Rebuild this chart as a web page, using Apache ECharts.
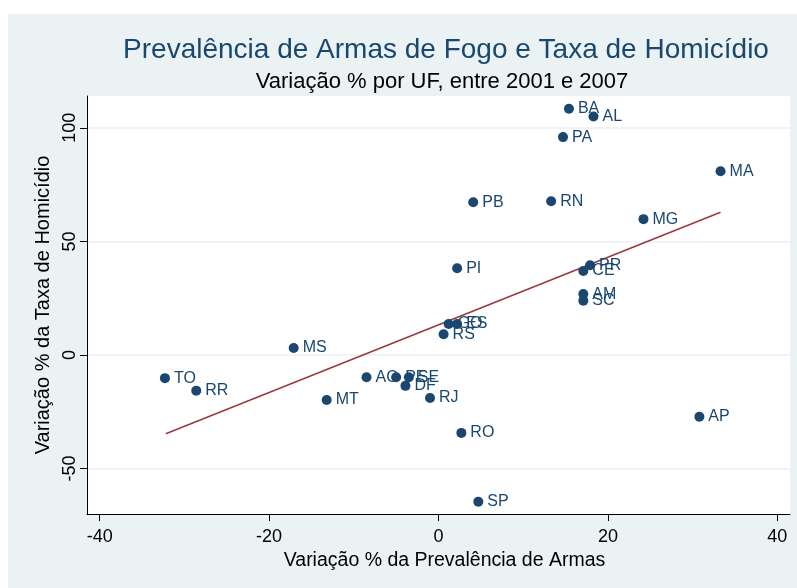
<!DOCTYPE html>
<html>
<head>
<meta charset="utf-8">
<script src="https://cdn.jsdelivr.net/npm/echarts@6/dist/echarts.min.js"></script>
<style>
  html, body { margin: 0; padding: 0; background: #ffffff; }
  #chart { width: 797px; height: 588px; }
</style>
</head>
<body>
<div id="chart"></div>
<script>
// UF codes and their % changes (2001-2007)
const ufs = ["TO", "RR", "MS", "MT", "AC", "PE", "SE", "DF", "RJ", "RO", "SP", "RS", "GO", "ES",
  "PI", "PB", "RN", "PA", "BA", "AL", "MA", "MG", "PR", "CE", "AM", "SC", "AP"];
const armas = [-32.3, -28.6, -17.1, -13.2, -8.5, -5.0, -3.5, -3.9, -1.0, 2.7, 4.7, 0.6, 1.2, 2.2,
  2.2, 4.1, 13.3, 14.7, 15.4, 18.3, 33.3, 24.2, 17.9, 17.1, 17.1, 17.1, 30.8];
const homicidio = [-10.2, -15.7, 3.1, -19.8, -9.8, -9.8, -9.8, -13.6, -18.9, -34.3, -64.6, 9.1, 13.6, 13.6,
  38.2, 67.2, 67.7, 95.9, 108.4, 105.0, 80.9, 59.8, 39.5, 37.0, 26.8, 23.9, -27.2];

// fitted line endpoints
const fitX = [-32.2, 33.3];
const fitY = [-34.7, 62.8];

const xTicks = [-40, -20, 0, 20, 40];
const yTicks = [-50, 0, 50, 100];

const navy = "#1a476f";
const font = "Liberation Sans, Arial, sans-serif";

const chart = echarts.init(document.getElementById("chart"));

chart.setOption({
  animation: false,
  backgroundColor: "#ffffff",
  graphic: [
    {
      type: "rect",
      z: -10,
      shape: { x: 8, y: 14, width: 789, height: 574 },
      style: { fill: "#eaf2f3" },
    },
  ],
  title: [
    {
      text: "Prevalência de Armas de Fogo e Taxa de Homicídio",
      left: 441,
      top: 31,
      textAlign: "center",
      textStyle: { fontSize: 28, fontWeight: "normal", color: navy, fontFamily: font },
    },
    {
      text: "Variação % por UF, entre 2001 e 2007",
      left: 437,
      top: 66,
      textAlign: "center",
      textStyle: { fontSize: 22, fontWeight: "normal", color: "#000000", fontFamily: font },
    },
  ],
  grid: {
    left: 87,
    top: 96,
    right: 7,
    bottom: 74,
    show: true,
    backgroundColor: "#ffffff",
    borderWidth: 0,
  },
  xAxis: {
    type: "value",
    min: -41.5,
    max: 41.5,
    name: "Variação % da Prevalência de Armas",
    nameLocation: "middle",
    nameGap: 33,
    nameTextStyle: { fontSize: 19.5, color: "#000000", fontFamily: font, padding: [0, 0, 0, 12] },
    axisLine: { show: true, onZero: false, lineStyle: { color: "#000000", width: 1 } },
    axisTick: { show: true, length: 7, customValues: xTicks, lineStyle: { color: "#000000" } },
    axisLabel: { customValues: xTicks, fontSize: 18, color: "#000000", fontFamily: font, margin: 14 },
    splitLine: { show: false },
  },
  yAxis: {
    type: "value",
    min: -70,
    max: 114,
    name: "Variação % da Taxa de Homicídio",
    nameLocation: "middle",
    nameGap: 33,
    nameTextStyle: { fontSize: 20, color: "#000000", fontFamily: font },
    axisLine: { show: true, onZero: false, lineStyle: { color: "#000000", width: 1 } },
    axisTick: { show: true, length: 7, customValues: yTicks, lineStyle: { color: "#000000" } },
    axisLabel: { customValues: yTicks, rotate: 90, fontSize: 18, color: "#000000", fontFamily: font, margin: 8 },
    splitLine: { show: true, lineStyle: { color: "#eaf2f3", width: 1.5 } },
  },
  series: [
    {
      type: "line",
      data: fitX.map((x, i) => [x, fitY[i]]),
      symbol: "none",
      lineStyle: { color: "#983a3e", width: 1.6 },
      z: 2,
    },
    {
      type: "scatter",
      symbolSize: 10,
      data: ufs.map((uf, i) => [armas[i], homicidio[i], uf]),
      itemStyle: { color: navy, opacity: 1 },
      label: {
        show: true,
        position: "right",
        distance: 4,
        offset: [0, 1],
        formatter: (p) => p.data[2],
        fontSize: 16,
        color: navy,
        fontFamily: font,
      },
      labelLayout: { hideOverlap: false },
      z: 3,
    },
  ],
});
</script>
</body>
</html>
